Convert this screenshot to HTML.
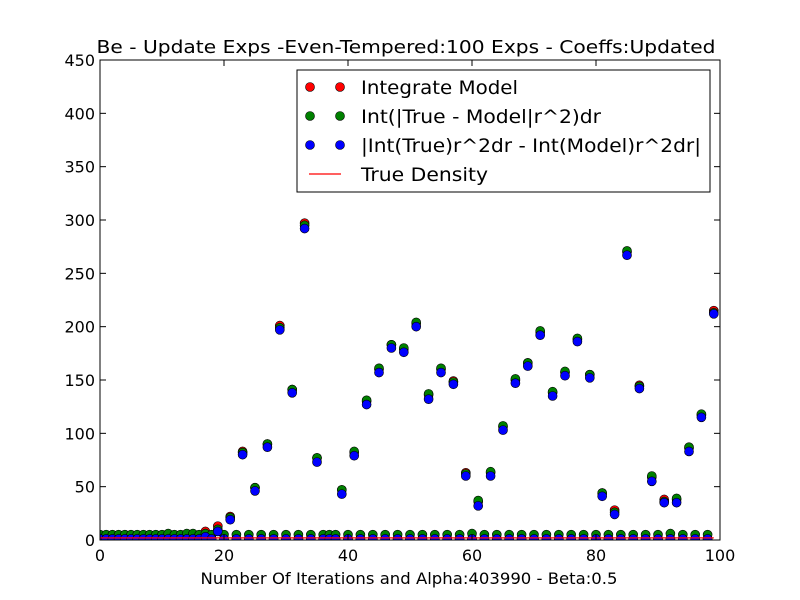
<!DOCTYPE html>
<html><head><meta charset="utf-8"><style>
html,body{margin:0;padding:0;background:#fff;}
svg{display:block;font-family:"DejaVu Sans","Liberation Sans",sans-serif;}
</style></head><body>
<svg id="chart" width="800" height="600">
<rect x="0" y="0" width="800" height="600" fill="#fff"/>
<text x="406" y="53" font-size="18" text-anchor="middle" textLength="619" lengthAdjust="spacingAndGlyphs">Be - Update Exps -Even-Tempered:100 Exps - Coeffs:Updated</text>
<g id="plot"></g>
<g id="axes"></g>
<text x="409" y="584" font-size="16" text-anchor="middle" textLength="417" lengthAdjust="spacingAndGlyphs">Number Of Iterations and Alpha:403990 - Beta:0.5</text>
<g>
<rect x="297" y="70" width="413" height="122" fill="#fff" stroke="#000" stroke-width="1"/>
<g>
<circle cx="310" cy="87" r="4.5" fill="#f00" stroke="#000" stroke-width="0.6"/><circle cx="340" cy="87" r="4.5" fill="#f00" stroke="#000" stroke-width="0.6"/>
<text x="361" y="94" font-size="19" textLength="157" lengthAdjust="spacingAndGlyphs">Integrate Model</text></g>
<g>
<circle cx="310" cy="116" r="4.5" fill="#008000" stroke="#000" stroke-width="0.6"/><circle cx="340" cy="116" r="4.5" fill="#008000" stroke="#000" stroke-width="0.6"/>
<text x="361" y="123" font-size="19" textLength="240" lengthAdjust="spacingAndGlyphs">Int(|True - Model|r^2)dr</text></g>
<g>
<circle cx="310" cy="145" r="4.5" fill="#00f" stroke="#000" stroke-width="0.6"/><circle cx="340" cy="145" r="4.5" fill="#00f" stroke="#000" stroke-width="0.6"/>
<text x="361" y="152" font-size="19" textLength="340" lengthAdjust="spacingAndGlyphs">|Int(True)r^2dr - Int(Model)r^2dr|</text></g>
<g>
<line x1="309" y1="174" x2="341" y2="174" stroke="#f00" stroke-width="1.2"/>
<text x="361" y="181" font-size="19" textLength="127" lengthAdjust="spacingAndGlyphs">True Density</text></g>
</g>
</svg>
<script>
const redVals=[1,1,1,1,1,1,1,1,1,1,1,1,1,1,1,1,1,8,1,13,1,22,1,83,1,49,1,90,1,201,1,141,1,297,1,77,1,1,1,47,1,82,1,130,1,160,1,183,1,179,1,203,1,136,1,160,1,149,1,63,1,36,1,63,1,106,1,150,1,166,1,195,1,138,1,157,1,188,1,155,1,44,1,28,1,270,1,145,1,59,1,38,1,38,1,86,1,117,1,215];
const greenVals=[5,5,5,5,5,5,5,5,5,5,5,6,5,5,6,6,5,6,5,10,5,21,5,82,5,49,5,90,5,199,5,141,5,295,5,77,5,5,5,47,5,83,5,131,5,161,5,183,5,180,5,204,5,137,5,161,5,148,5,62,6,37,5,64,5,107,5,151,5,166,5,196,5,139,5,158,5,189,5,155,5,44,5,26,5,271,5,144,5,60,5,36,6,39,5,87,5,118,5,213];
const blueVals=[1,1,1,1,1,1,1,1,1,1,1,1,1,1,1,1,1,3,1,8,1,19,1,80,1,46,1,87,1,197,1,138,1,292,1,73,1,1,1,43,1,79,1,127,1,157,1,180,1,176,1,200,1,132,1,157,1,146,1,60,1,32,1,60,1,103,1,147,1,163,1,192,1,135,1,154,1,186,1,152,1,41,1,24,1,267,1,142,1,55,1,35,1,35,1,83,1,115,1,212];
const trueDensity=2;
const xTicks=[0,20,40,60,80,100];
const yTicks=[0,50,100,150,200,250,300,350,400,450];

const X0=100,X1=720,Y0=540,Y1=60;
const xs=v=>X0+(v-0)/100*(X1-X0);
const ys=v=>Y0-(v-0)/450*(Y0-Y1);
const NS="http://www.w3.org/2000/svg";
const plot=document.getElementById('plot');
const axes=document.getElementById('axes');
function mk(tag,attrs,parent){const e=document.createElementNS(NS,tag);for(const k in attrs)e.setAttribute(k,attrs[k]);parent.appendChild(e);return e;}

const cp=mk('clipPath',{id:'clip'},plot);
mk('rect',{x:X0,y:Y1,width:X1-X0,height:Y0-Y1},cp);
const g=mk('g',{'clip-path':'url(#clip)'},plot);

function series(vals,color,name){
  const sg=mk('g',{},g);
  
  
  vals.forEach((v,i)=>{
    const c=mk('circle',{cx:xs(i),cy:ys(v),r:4.5,fill:color,stroke:'#000','stroke-width':0.6},sg);
    
    
  });
}
series(redVals,'#f00','integrate-model-series');
series(greenVals,'#008000','int-abs-series');
series(blueVals,'#00f','abs-diff-series');
const tl=mk('line',{x1:xs(0),x2:xs(99),y1:ys(trueDensity),y2:ys(trueDensity),stroke:'#f00','stroke-width':1.2},g);



const frame=mk('rect',{x:X0,y:Y1,width:X1-X0,height:Y0-Y1,fill:'none',stroke:'#000','stroke-width':1},axes);


xTicks.forEach(t=>{
  const x=xs(t);
  mk('line',{x1:x,x2:x,y1:Y0,y2:Y0-6,stroke:'#000'},axes);
  mk('line',{x1:x,x2:x,y1:Y1,y2:Y1+6,stroke:'#000'},axes);
  const tx=mk('text',{x:x,y:Y0+21,'font-size':16,'text-anchor':'middle'},axes);
  tx.textContent=t;
  
  
});
yTicks.forEach(t=>{
  const y=ys(t);
  mk('line',{x1:X0,x2:X0+6,y1:y,y2:y,stroke:'#000'},axes);
  mk('line',{x1:X1,x2:X1-6,y1:y,y2:y,stroke:'#000'},axes);
  const tx=mk('text',{x:X0-5,y:y+6,'font-size':16,'text-anchor':'end'},axes);
  tx.textContent=t;
  
  
});
</script>
</body></html>
